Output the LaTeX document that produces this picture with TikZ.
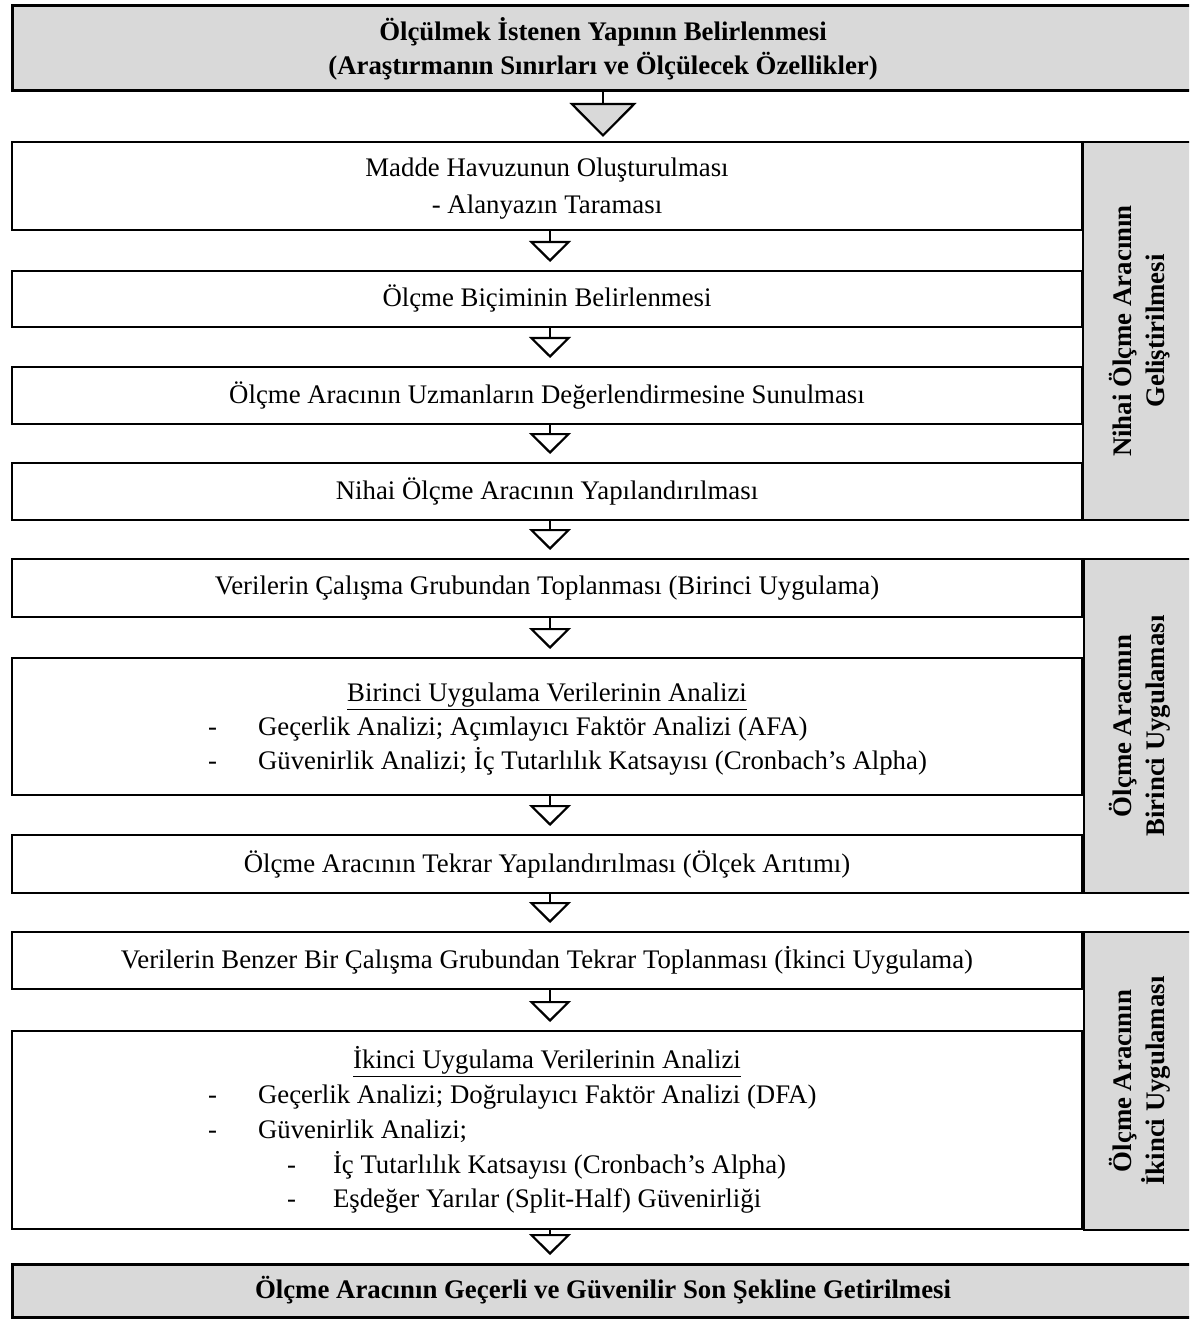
\documentclass[tikz,border=0pt]{standalone}
\usepackage{fontspec}
\setmainfont{Liberation Serif}
\usetikzlibrary{arrows.meta}
\definecolor{boxgray}{HTML}{D9D9D9}
\begin{document}
\begin{tikzpicture}[x=0.5pt,y=-0.5pt,
  every node/.style={font=\fontsize{13.4pt}{16.5pt}\selectfont, inner sep=0pt, outer sep=0pt},
  stepbox/.style={draw, line width=1.1pt, fill=white, minimum width=535pt, align=center},
  headbox/.style={draw, line width=1.5pt, fill=boxgray, minimum width=591pt, align=center,
    font=\fontsize{13.4pt}{17.5pt}\selectfont\bfseries},
  sidebox/.style={draw, line width=1.1pt, fill=boxgray, minimum width=55pt},
  sidelabel/.style={rotate=90, align=center, font=\fontsize{13.4pt}{16.5pt}\selectfont\bfseries},
  line/.style={anchor=base west},
  titleline/.style={anchor=base},
  flow/.style={line width=1.1pt, -{Triangle[open, length=10.5pt, width=21pt]}, shorten >=4.5pt},
  bigflow/.style={line width=1.1pt, -{Triangle[fill=boxgray, length=17pt, width=33.5pt]}, shorten >=2.5pt}
]
\useasboundingbox (0,0) rectangle (1189,1320);
\clip (0,0) rectangle (1189,1320);

% head and tail of the procedure
\node[headbox, minimum height=42.5pt] (head) at (603,48.5) {};
\node[titleline, font=\fontsize{13.4pt}{17pt}\selectfont\bfseries] (headt1) at (603,41)
  {Ölçülmek İstenen Yapının Belirlenmesi};
\node[titleline, font=\fontsize{13.4pt}{17pt}\selectfont\bfseries] (headt2) at (603,75)
  {(Araştırmanın Sınırları ve Ölçülecek Özellikler)};
\node[headbox, minimum height=26.5pt] (tail) at (603,1290.5)
  {Ölçme Aracının Geçerli ve Güvenilir Son Şekline Getirilmesi};

% phase labels on the right
\node[sidebox, minimum height=189pt] (s1) at (1138,331) {};
\node[sidelabel] (s1l) at (1140,331) {Nihai Ölçme Aracının\\Geliştirilmesi};
\node[sidebox, minimum height=167pt] (s2) at (1139,726) {};
\node[sidelabel] (s2l) at (1140,726) {Ölçme Aracının\\Birinci Uygulaması};
\node[sidebox, minimum height=149pt] (s3) at (1139,1081) {};
\node[sidelabel] (s3l) at (1140,1081) {Ölçme Aracının\\İkinci Uygulaması};

% steps
\node[stepbox, minimum height=44pt] (b1) at (547,186) {};
\node[titleline] (b1t1) at (547,177) {Madde Havuzunun Oluşturulması};
\node[titleline] (b1t2) at (547,214) {- Alanyazın Taraması};
\node[stepbox, minimum height=28pt] (b2) at (547,299) {Ölçme Biçiminin Belirlenmesi};
\node[stepbox, minimum height=28.5pt] (b3) at (547,395.5) {Ölçme Aracının Uzmanların Değerlendirmesine Sunulması};
\node[stepbox, minimum height=28.5pt] (b4) at (547,491.5) {Nihai Ölçme Aracının Yapılandırılması};
\node[stepbox, minimum height=29pt] (b5) at (547,588) {Verilerin Çalışma Grubundan Toplanması (Birinci Uygulama)};
\node[stepbox, minimum height=68.5pt] (b6) at (547,726.5) {};
\node[stepbox, minimum height=29pt] (b7) at (547,864) {Ölçme Aracının Tekrar Yapılandırılması (Ölçek Arıtımı)};
\node[stepbox, minimum height=28.5pt] (b8) at (547,960.5) {Verilerin Benzer Bir Çalışma Grubundan Tekrar Toplanması (İkinci Uygulama)};
\node[stepbox, minimum height=99pt] (b9) at (547,1130) {};

% contents of the first analysis step
\node[titleline] (b6t) at (547,701) {\underline{Birinci Uygulama Verilerinin Analizi}};
\node[line] (b6d1) at (208,735) {-};
\node[line] (b6x1) at (258,735) {Geçerlik Analizi; Açımlayıcı Faktör Analizi (AFA)};
\node[line] (b6d2) at (208,769) {-};
\node[line] (b6x2) at (258,769) {Güvenirlik Analizi; İç Tutarlılık Katsayısı (Cronbach’s Alpha)};

% contents of the second analysis step
\node[titleline] (b9t) at (547,1068) {\underline{İkinci Uygulama Verilerinin Analizi}};
\node[line] (b9d1) at (208,1103) {-};
\node[line] (b9x1) at (258,1103) {Geçerlik Analizi; Doğrulayıcı Faktör Analizi (DFA)};
\node[line] (b9d2) at (208,1138) {-};
\node[line] (b9x2) at (258,1138) {Güvenirlik Analizi;};
\node[line] (b9d3) at (287,1173) {-};
\node[line] (b9x3) at (333,1173) {İç Tutarlılık Katsayısı (Cronbach’s Alpha)};
\node[line] (b9d4) at (287,1207) {-};
\node[line] (b9x4) at (333,1207) {Eşdeğer Yarılar (Split-Half) Güvenirliği};

% flow
\draw[bigflow] (head.south) -- (head.south |- b1.north);
\foreach \a/\b in {b1/b2, b2/b3, b3/b4, b4/b5, b5/b6, b6/b7, b7/b8, b8/b9}
  \draw[flow] ([xshift=1.5pt]\a.south) -- ([xshift=1.5pt]\b.north);
\draw[flow] ([xshift=1.5pt]b9.south) -- ([xshift=1.5pt]b9.south |- tail.north);
\end{tikzpicture}
\end{document}
